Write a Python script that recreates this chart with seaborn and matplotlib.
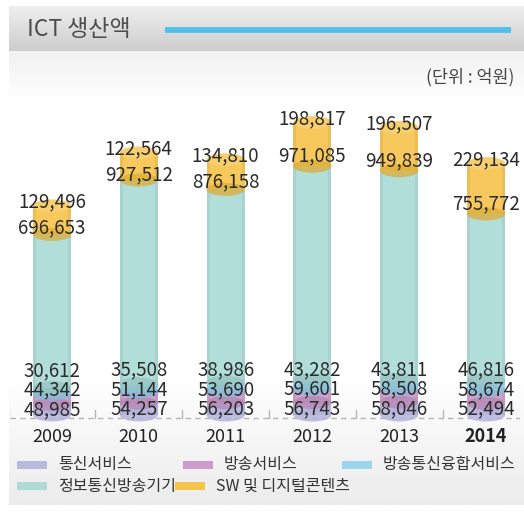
import numpy as np
import pandas as pd
import seaborn as sns
import matplotlib.pyplot as plt
from matplotlib.patches import Ellipse, Rectangle
from matplotlib.colors import to_rgb

# ICT production by sector (unit: 100 million KRW)
years = ["2009", "2010", "2011", "2012", "2013", "2014"]
series = ["통신서비스", "방송서비스", "방송통신융합서비스", "정보통신방송기기", "SW 및 디지털콘텐츠"]
telecom_services = [48985, 54257, 56203, 56743, 58046, 52494]
broadcast_services = [44342, 51144, 53690, 59601, 58508, 58674]
convergence_services = [30612, 35508, 38986, 43282, 43811, 46816]
ict_equipment = [696653, 927512, 876158, 971085, 949839, 755772]
sw_content = [129496, 122564, 134810, 198817, 196507, 229134]

values = [telecom_services, broadcast_services, convergence_services, ict_equipment, sw_content]
colors = ["#b4b4dc", "#c894c6", "#93d2ee", "#a5d9d4", "#f6bf3e"]

W = H = 524
PX_PER_UNIT = 0.22 / 1000.0   # pixels per 억원
BASE_PX = 415                 # baseline row (from top)

sns.set_theme(style="white")
plt.rcParams["font.family"] = ["Noto Sans CJK KR", "DejaVu Sans"]

fig = plt.figure(figsize=(W / 100, H / 100), dpi=100)

# ---- background panels -------------------------------------------------
bg = fig.add_axes([0, 0, 1, 1])
bg.set_xlim(0, W)
bg.set_ylim(H, 0)
bg.axis("off")


def vgrad(ax, x0, x1, y0, y1, c0, c1):
    g = np.linspace(0, 1, 64)[:, None, None]
    img = (1 - g) * np.array(to_rgb(c0)) + g * np.array(to_rgb(c1))
    ax.imshow(img, extent=[x0, x1, y1, y0], aspect="auto", zorder=0, interpolation="bilinear")


vgrad(bg, 9, W, 6, 51, "#efefef", "#cdcdcd")
vgrad(bg, 9, W, 51, 100, "#f1f1f1", "#ffffff")
vgrad(bg, 9, W, 380, 505, "#ffffff", "#ececec")
bg.set_xlim(0, W)
bg.set_ylim(H, 0)

bg.text(27, 30, "ICT 생산액", fontsize=16.5, color="#4d4d4d", va="center", ha="left")
bg.plot([165, 511], [30, 30], color="#52c0ee", lw=4.2, solid_capstyle="butt")
bg.text(514, 77, "(단위 : 억원)", fontsize=12.5, color="#444444", va="center", ha="right")

# ---- chart ---------------------------------------------------------------
top_px, bot_px = 60, 432
ax = fig.add_axes([10 / W, (H - bot_px) / H, 510 / W, (bot_px - top_px) / H])
ax.patch.set_alpha(0)

df = pd.DataFrame({"year": years})
bottom = np.zeros(len(years))
bar_w = 0.44
for name, vals, col in zip(series, values, colors):
    df[name] = vals
    sns.barplot(x=years, y=vals, bottom=bottom, color=col, width=bar_w,
                alpha=0.85, ax=ax, linewidth=0, saturation=1, zorder=2)
    bottom = bottom + np.array(vals)

px_per_x = 86.8
x_left = -(52 - 10) / px_per_x
ax.set_xlim(x_left, x_left + 510 / px_per_x)
ax.set_ylim(-(bot_px - BASE_PX) / PX_PER_UNIT, (BASE_PX - top_px) / PX_PER_UNIT)
ax.axis("off")

ell_h = 13 / PX_PER_UNIT


def shade(c, f):
    r = np.array(to_rgb(c))
    return tuple(np.clip(r * f, 0, 1)) if f < 1 else tuple(r + (1 - r) * (f - 1))


# elliptical caps give each stacked column a cylindrical look
cum = np.zeros(len(years))
for k, (vals, col) in enumerate(zip(values, colors)):
    for i in range(len(years)):
        if k == 0:
            ax.add_patch(Ellipse((i, 0), bar_w, ell_h, color=col, alpha=0.85, lw=0, zorder=1.5))
        else:
            ax.add_patch(Ellipse((i, cum[i]), bar_w, ell_h, color=shade(col, 0.9),
                                 alpha=0.75, lw=0, zorder=2.5))
    cum = cum + np.array(vals)
for i in range(len(years)):
    ax.add_patch(Ellipse((i, cum[i]), bar_w, ell_h, color=shade(colors[-1], 1.25),
                         lw=0, zorder=2.6))

# soft side shading on each column
for i in range(len(years)):
    for side in (-1, 1):
        ax.add_patch(Rectangle((i + side * bar_w / 2 - (0.035 if side > 0 else 0), 0),
                               0.035, cum[i], color="black", alpha=0.05, lw=0, zorder=2.4))

# baseline with category dividers
ax.plot([x_left, x_left + 510 / px_per_x], [-3 / PX_PER_UNIT] * 2, ls=(0, (4, 3)),
        color="#b5b5b5", lw=1, zorder=1)
for i in range(len(years)):
    ax.plot([i - 0.5, i - 0.5], [-3 / PX_PER_UNIT, 5 / PX_PER_UNIT], color="#b5b5b5", lw=1, zorder=1)

# value labels
lab_kw = dict(ha="center", va="center", fontsize=13.5, color="#2b2b2b", zorder=5)
for i in range(len(years)):
    prev = -1e9
    c = 0
    for k in range(3):
        v = values[k][i]
        mid = c + v / 2
        y = max(mid, prev + 19.5 / PX_PER_UNIT)
        ax.text(i, y, f"{v:,}", **lab_kw)
        prev = y
        c += v
    c += values[3][i]
    top_lab = cum[i] + 4 / PX_PER_UNIT
    mid_lab = min(c + 10 / PX_PER_UNIT, top_lab - 26 / PX_PER_UNIT)
    ax.text(i, mid_lab, f"{values[3][i]:,}", **lab_kw)
    ax.text(i, top_lab, f"{values[4][i]:,}", **lab_kw)

# year labels
for i, yr in enumerate(years):
    bg.text(52 + px_per_x * i, 437, yr, ha="center", va="center", fontsize=13,
            color="#222222", fontweight="bold" if yr == "2014" else "normal")

# legend
leg = [(17, 465, 0), (183, 465, 1), (342, 465, 2), (17, 486, 3), (175, 486, 4)]
for x0, y0, k in leg:
    bg.add_patch(Rectangle((x0, y0 - 4), 30, 8, color=colors[k], alpha=0.9, lw=0))
    bg.text(x0 + 41, y0, series[k], ha="left", va="center", fontsize=11.5, color="#333333")

fig.savefig("out.png", dpi=100)
